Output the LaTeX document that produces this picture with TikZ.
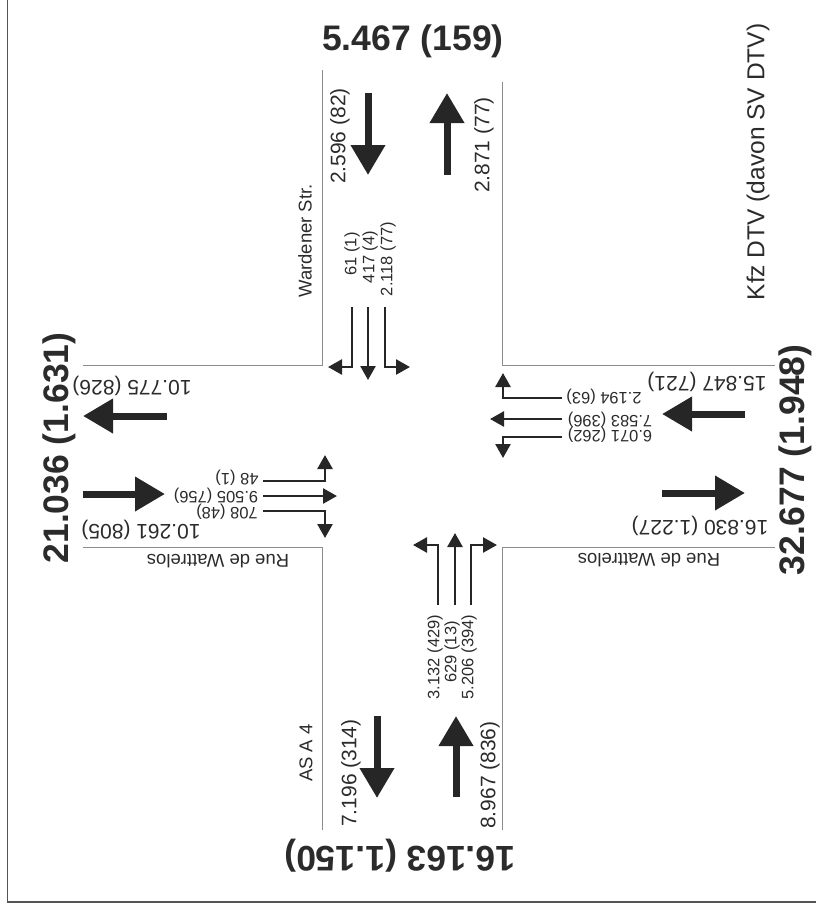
\documentclass[tikz,border=0pt]{standalone}
\usepackage{fontspec}
\setmainfont{Liberation Sans}
\usepackage{xcolor}
\usepackage{tikz}
\usetikzlibrary{arrows.meta,positioning}

\begin{document}
\begin{tikzpicture}[x=1pt,y=-1pt,
    bigarr/.style={cA,line width=7pt,-{Triangle[length=30pt,width=33pt]}},
    lanearr/.style={cA,line width=2.6pt,-{Triangle[length=14pt,width=15pt]}},
    road/.style={cR,line width=0.9pt},
    total/.style={cT,inner sep=0pt,font=\fontsize{35.5}{36}\selectfont\bfseries},
    side/.style={cT,inner sep=0pt,font=\fontsize{21}{22}\selectfont},
    lane/.style={cT,inner sep=0pt,font=\fontsize{16.5}{17}\selectfont},
    street/.style={cT,inner sep=0pt,font=\fontsize{18.5}{19}\selectfont}]
    \definecolor{cA}{RGB}{38,38,38}\definecolor{cT}{RGB}{43,43,43}
    \definecolor{cR}{RGB}{140,140,140}\definecolor{cF}{RGB}{85,85,85}
    \useasboundingbox (0,0) rectangle (816,911);
    % ---------- frame ----------
    \draw[cF,line width=1.5pt] (7.5,0)--(7.5,902)--(816,902);
    % ---------- road edges ----------
    \draw[road] (322,70)--(322,365)--(83,365);
    \draw[road] (502,82)--(502,365)--(775,365);
    \draw[road] (83,547)--(322,547)--(322,830);
    \draw[road] (775,547)--(502,547)--(502,830);
    % ---------- NORTH: Wardener Str. ----------
    \node[total] (sumN) at (413,41) {5.467 (159)};
    \draw[bigarr] (368,93)--(368,175);
    \draw[bigarr] (447,175)--(447,93);
    \node[side,rotate=90] (inN) at (340,136) {2.596 (82)};
    \node[side,rotate=90] (outN) at (484,145) {2.871 (77)};
    \node[street,rotate=90] (strN) at (305,241) {Wardener Str.};
    \node[lane,rotate=90] (laneN1) at (352,254) {61 (1)};
    \node[lane,rotate=90] (laneN2) at (370,257) {417 (4)};
    \node[lane,rotate=90] (laneN3) at (388,259) {2.118 (77)};
    \draw[lanearr] (352,307) |- (328,367);
    \draw[lanearr] (368,307)--(368,380);
    \draw[lanearr] (385,307) |- (410,367);
    % ---------- EAST: Rue de Wattrelos ----------
    \node[total,rotate=90] (sumE) at (795,460) {32.677 (1.948)};
    \draw[bigarr] (745,414)--(662,414);
    \draw[bigarr] (662,493)--(745,493);
    \node[side,rotate=180] (inE) at (707,382) {15.847 (721)};
    \node[side,rotate=180] (outE) at (700,526) {16.830 (1.227)};
    \node[street,rotate=180] (strE) at (649,560) {Rue de Wattrelos};
    \node[lane,rotate=180] (laneE1) at (604,397) {2.194 (63)};
    \node[lane,rotate=180] (laneE2) at (610,420) {7.583 (396)};
    \node[lane,rotate=180] (laneE3) at (610,435) {6.071 (262)};
    \draw[lanearr] (562,398) -| (503,373);
    \draw[lanearr] (562,419)--(490,419);
    \draw[lanearr] (562,437) -| (503,458);
    % ---------- WEST: Rue de Wattrelos ----------
    \node[total,rotate=90] (sumW) at (59,448) {21.036 (1.631)};
    \draw[bigarr] (167,416)--(83,416);
    \draw[bigarr] (83,494)--(165,494);
    \node[side,rotate=180] (outW) at (132,386) {10.775 (826)};
    \node[side,rotate=180] (inW) at (141,530) {10.261 (805)};
    \node[street,rotate=180] (strW) at (218,561) {Rue de Wattrelos};
    \node[lane,rotate=180] (laneW1) at (237,478) {48 (1)};
    \node[lane,rotate=180] (laneW2) at (216,496) {9.505 (756)};
    \node[lane,rotate=180] (laneW3) at (227,512) {708 (48)};
    \draw[lanearr] (263,481) -| (325,455);
    \draw[lanearr] (263,496)--(337,496);
    \draw[lanearr] (263,511) -| (325,538);
    % ---------- SOUTH: AS A 4 ----------
    \node[total,rotate=180] (sumS) at (400,856) {16.163 (1.150)};
    \draw[bigarr] (377,716)--(377,798);
    \draw[bigarr] (456,797)--(456,716);
    \node[side,rotate=90] (outS) at (351,773) {7.196 (314)};
    \node[side,rotate=90] (inS) at (490,775) {8.967 (836)};
    \node[street,rotate=90] (strS) at (306,753) {AS A 4};
    \node[lane,rotate=90] (laneS1) at (435,657) {3.132 (429)};
    \node[lane,rotate=90] (laneS2) at (452,652) {629 (13)};
    \node[lane,rotate=90] (laneS3) at (469,657) {5.206 (394)};
    \draw[lanearr] (438,605) |- (413,545);
    \draw[lanearr] (455,605)--(455,533);
    \draw[lanearr] (471,605) |- (497,545);
    % ---------- legend ----------
    \node[cT,inner sep=0pt,rotate=90,font=\fontsize{24.5}{25}\selectfont] (legend) at (758,162) {Kfz DTV (davon SV DTV)};
  \end{tikzpicture}
\end{document}
